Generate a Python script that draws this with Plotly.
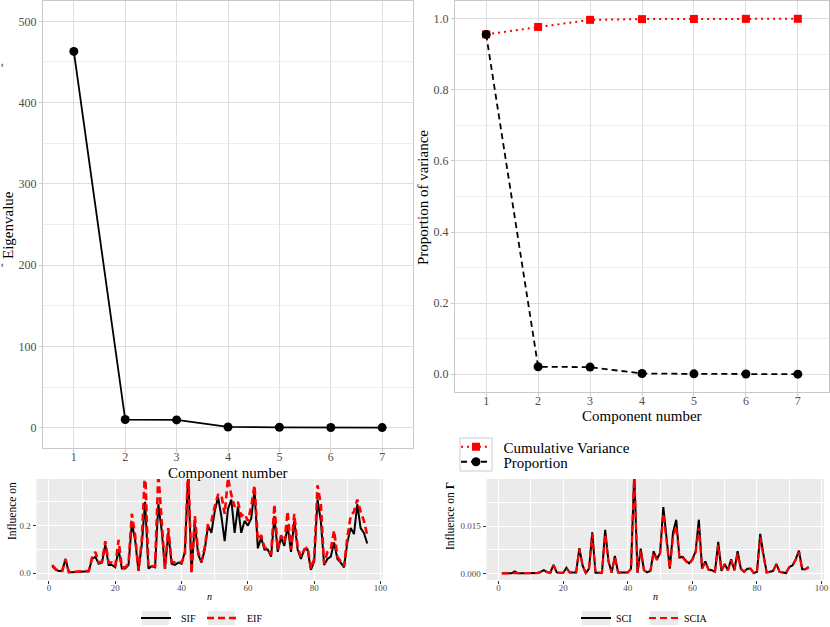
import plotly.graph_objects as go

W, H = 830, 627
def px(x): return x / W
def py(y): return 1 - y / H

# ---------------- data ----------------
components = [1, 2, 3, 4, 5, 6, 7]
eigenvalues = [463, 10.0, 9.6, 0.9, 0.5, 0.25, 0.1]
cumulative = [0.956, 0.977, 0.997, 0.999, 0.9995, 0.9998, 1.0]
proportion = [0.956, 0.021, 0.020, 0.002, 0.001, 0.0005, 0.0002]

obs = list(range(1, 97))
sif = [0.030, 0.015, 0.010, 0.010, 0.060, 0.005, 0.005, 0.006, 0.008, 0.010,
       0.010, 0.009, 0.060, 0.070, 0.040, 0.045, 0.120, 0.035, 0.035, 0.025,
       0.100, 0.020, 0.020, 0.035, 0.210, 0.140, 0.010, 0.120, 0.300, 0.020,
       0.030, 0.025, 0.290, 0.180, 0.020, 0.170, 0.040, 0.035, 0.045, 0.040,
       0.090, 0.420, 0.005, 0.210, 0.080, 0.045, 0.100, 0.200, 0.170, 0.260,
       0.320, 0.240, 0.135, 0.270, 0.310, 0.170, 0.280, 0.170, 0.220, 0.200,
       0.230, 0.350, 0.105, 0.150, 0.100, 0.100, 0.070, 0.240, 0.090, 0.150,
       0.115, 0.200, 0.090, 0.220, 0.100, 0.060, 0.100, 0.100, 0.015, 0.050,
       0.310, 0.220, 0.035, 0.060, 0.070, 0.130, 0.060, 0.045, 0.025, 0.130,
       0.190, 0.165, 0.290, 0.190, 0.170, 0.125]
eif = [0.035, 0.018, 0.010, 0.010, 0.060, 0.005, 0.006, 0.007, 0.009, 0.011,
       0.010, 0.010, 0.065, 0.090, 0.045, 0.050, 0.135, 0.045, 0.045, 0.030,
       0.140, 0.025, 0.025, 0.040, 0.250, 0.160, 0.012, 0.140, 0.440, 0.025,
       0.030, 0.030, 0.420, 0.200, 0.020, 0.190, 0.050, 0.045, 0.050, 0.045,
       0.080, 0.450, 0.000, 0.240, 0.090, 0.050, 0.110, 0.210, 0.220, 0.280,
       0.330, 0.330, 0.250, 0.400, 0.330, 0.280, 0.300, 0.240, 0.250, 0.220,
       0.280, 0.370, 0.140, 0.160, 0.110, 0.100, 0.080, 0.290, 0.100, 0.160,
       0.130, 0.260, 0.100, 0.250, 0.110, 0.070, 0.100, 0.110, 0.020, 0.060,
       0.370, 0.290, 0.040, 0.090, 0.100, 0.180, 0.070, 0.050, 0.030, 0.150,
       0.240, 0.260, 0.310, 0.260, 0.220, 0.160]
sci = [0.0000, 0.0000, 0.0000, 0.0000, 0.0006, 0.0000, 0.0000, 0.0000, 0.0000, 0.0000,
       0.0000, 0.0001, 0.0005, 0.0010, 0.0004, 0.0002, 0.0027, 0.0003, 0.0002, 0.0002,
       0.0018, 0.0003, 0.0003, 0.0003, 0.0080, 0.0025, 0.0001, 0.0015, 0.0130, 0.0002,
       0.0002, 0.0002, 0.0138, 0.0040, 0.0002, 0.0055, 0.0003, 0.0003, 0.0004, 0.0003,
       0.0015, 0.0320, 0.0002, 0.0078, 0.0010, 0.0003, 0.0008, 0.0070, 0.0045, 0.0065,
       0.0210, 0.0100, 0.0015, 0.0130, 0.0170, 0.0050, 0.0052, 0.0040, 0.0032, 0.0045,
       0.0070, 0.0170, 0.0015, 0.0038, 0.0012, 0.0010, 0.0005, 0.0100, 0.0008, 0.0030,
       0.0010, 0.0045, 0.0010, 0.0070, 0.0015, 0.0005, 0.0015, 0.0015, 0.0001, 0.0005,
       0.0125, 0.0060, 0.0003, 0.0005, 0.0008, 0.0030, 0.0005, 0.0003, 0.0001, 0.0020,
       0.0025, 0.0045, 0.0072, 0.0013, 0.0013, 0.0020]
scia = [0.0000, 0.0000, 0.0000, 0.0000, 0.0002, 0.0000, 0.0000, 0.0000, 0.0000, 0.0000,
        0.0000, 0.0001, 0.0004, 0.0008, 0.0004, 0.0002, 0.0025, 0.0003, 0.0002, 0.0002,
        0.0016, 0.0003, 0.0003, 0.0003, 0.0078, 0.0024, 0.0001, 0.0015, 0.0125, 0.0002,
        0.0002, 0.0002, 0.0125, 0.0038, 0.0002, 0.0052, 0.0003, 0.0003, 0.0004, 0.0003,
        0.0014, 0.0320, 0.0002, 0.0072, 0.0010, 0.0003, 0.0008, 0.0065, 0.0042, 0.0062,
        0.0190, 0.0095, 0.0015, 0.0115, 0.0150, 0.0048, 0.0050, 0.0038, 0.0030, 0.0043,
        0.0065, 0.0145, 0.0015, 0.0036, 0.0012, 0.0010, 0.0005, 0.0090, 0.0008, 0.0028,
        0.0010, 0.0042, 0.0010, 0.0062, 0.0015, 0.0005, 0.0015, 0.0015, 0.0001, 0.0005,
        0.0115, 0.0055, 0.0003, 0.0005, 0.0008, 0.0028, 0.0005, 0.0003, 0.0001, 0.0020,
        0.0025, 0.0042, 0.0068, 0.0013, 0.0013, 0.0020]

FONT = "Liberation Serif"
NB = "\u00a0"

fig = go.Figure()

# top-left: scree
fig.add_trace(go.Scatter(x=components, y=eigenvalues, mode="lines+markers",
                         line=dict(color="black", width=1.8),
                         marker=dict(color="black", size=9, symbol="circle"),
                         showlegend=False, xaxis="x", yaxis="y"))
# top-right: cumulative & proportion
fig.add_trace(go.Scatter(x=components, y=cumulative, mode="lines+markers",
                         name=NB * 2 + "Cumulative Variance",
                         line=dict(color="red", width=2, dash="2px,4px"),
                         marker=dict(color="red", size=8, symbol="square"),
                         xaxis="x2", yaxis="y2", legend="legend"))
fig.add_trace(go.Scatter(x=components, y=proportion, mode="lines+markers",
                         name=NB * 2 + "Proportion",
                         line=dict(color="black", width=1.8, dash="6px,4px"),
                         marker=dict(color="black", size=9, symbol="circle"),
                         xaxis="x2", yaxis="y2", legend="legend4"))
# bottom-left
fig.add_trace(go.Scatter(x=obs, y=sif, mode="lines", name=NB * 2 + "SIF",
                         line=dict(color="black", width=2),
                         xaxis="x3", yaxis="y3", legend="legend2"))
fig.add_trace(go.Scatter(x=obs, y=eif, mode="lines", name=NB * 2 + "EIF",
                         line=dict(color="red", width=2.6, dash="7px,4px"),
                         xaxis="x3", yaxis="y3", legend="legend2"))
# bottom-right
fig.add_trace(go.Scatter(x=obs, y=sci, mode="lines", name="SCI",
                         line=dict(color="black", width=2),
                         xaxis="x4", yaxis="y4", legend="legend3"))
fig.add_trace(go.Scatter(x=obs, y=scia, mode="lines", name="SCIA",
                         line=dict(color="red", width=2.2, dash="7px,4px"),
                         xaxis="x4", yaxis="y4", legend="legend3"))

light_grid = "#dedede"
light_minor = "#eeeeee"
border = "#c8c8c8"
tickfont_top = dict(family=FONT, size=12, color="#4d4d4d")
tickfont_bot = dict(family=FONT, size=9, color="#4d4d4d")

def top_x(domain, anchor):
    return dict(domain=domain, anchor=anchor, range=[0.4, 7.6], tickvals=components,
                showgrid=True, gridcolor=light_grid, gridwidth=1, automargin=False,
                showline=True, mirror=True, linecolor=border, linewidth=1,
                ticks="outside", ticklen=3, tickcolor=border, tickfont=tickfont_top,
                ticklabelstandoff=-5, zeroline=False)

def top_y(domain, anchor, rng, tv, tt, minor_vals):
    return dict(domain=domain, anchor=anchor, range=rng, tickvals=tv, ticktext=tt,
                showgrid=True, gridcolor=light_grid, gridwidth=1, automargin=False,
                minor=dict(tickvals=minor_vals, showgrid=True, gridcolor=light_minor,
                           gridwidth=1, ticks=""),
                showline=True, mirror=True, linecolor=border, linewidth=1,
                ticks="outside", ticklen=3, tickcolor=border, tickfont=tickfont_top,
                zeroline=False)

def bot_x(domain, anchor):
    return dict(domain=domain, anchor=anchor, range=[-3.75, 100.75],
                tickvals=[0, 20, 40, 60, 80, 100], automargin=False,
                showgrid=True, gridcolor="white", gridwidth=1.1,
                minor=dict(tickvals=[10, 30, 50, 70, 90], showgrid=True,
                           gridcolor="white", gridwidth=0.5, ticks=""),
                showline=False, ticks="outside", ticklen=3, tickcolor="#333333",
                tickfont=tickfont_bot, ticklabelstandoff=-4, zeroline=False)

def bot_y(domain, anchor, rng, tv, tt, minor_vals):
    return dict(domain=domain, anchor=anchor, range=rng, tickvals=tv, ticktext=tt,
                showgrid=True, gridcolor="white", gridwidth=1.1, automargin=False,
                minor=dict(tickvals=minor_vals, showgrid=True, gridcolor="white",
                           gridwidth=0.5, ticks=""),
                showline=False, ticks="outside", ticklen=3, tickcolor="#333333",
                tickfont=tickfont_bot, zeroline=False)

dom_tl_x = [px(43), px(413)]
dom_tl_y = [py(448), py(1)]
dom_tr_x = [px(455), px(829)]
dom_tr_y = [py(392), py(1)]
dom_bl_x = [px(36.5), px(383)]
dom_bl_y = [py(580), py(479)]
dom_br_x = [px(486.5), px(824)]
dom_br_y = [py(580), py(479)]

def small_legend(x, y, ew):
    return dict(orientation="h", x=px(x), y=py(y), xanchor="left", yanchor="middle",
                bgcolor="rgba(0,0,0,0)", font=dict(family=FONT, size=10),
                entrywidthmode="pixels", entrywidth=ew)

fig.update_layout(
    width=W, height=H,
    margin=dict(l=0, r=0, t=0, b=0, autoexpand=False),
    paper_bgcolor="white",
    plot_bgcolor="white",
    font=dict(family=FONT, color="black"),
    xaxis=top_x(dom_tl_x, "y"),
    yaxis=top_y(dom_tl_y, "x", [-25, 525], [0, 100, 200, 300, 400, 500],
                ["0", "100", "200", "300", "400", "500"], [50, 150, 250, 350, 450]),
    xaxis2=top_x(dom_tr_x, "y2"),
    yaxis2=top_y(dom_tr_y, "x2", [-0.05, 1.05], [0, 0.2, 0.4, 0.6, 0.8, 1.0],
                 ["0.0", "0.2", "0.4", "0.6", "0.8", "1.0"], [0.1, 0.3, 0.5, 0.7, 0.9]),
    xaxis3=bot_x(dom_bl_x, "y3"),
    yaxis3=bot_y(dom_bl_y, "x3", [-0.028, 0.396], [0, 0.2], ["0.0", "0.2"], [0.1, 0.3]),
    xaxis4=bot_x(dom_br_x, "y4"),
    yaxis4=bot_y(dom_br_y, "x4", [-0.0021, 0.0299], [0, 0.015], ["0.000", "0.015"],
                 [0.0075, 0.0225]),
    legend=dict(x=px(456), y=py(447), xanchor="left", yanchor="middle",
                bgcolor="rgba(0,0,0,0)", font=dict(family=FONT, size=15)),
    legend4=dict(x=px(456), y=py(462), xanchor="left", yanchor="middle",
                 bgcolor="rgba(0,0,0,0)", font=dict(family=FONT, size=15)),
    legend2=small_legend(136, 618, 21),
    legend3=small_legend(576, 618, 23),
)

# panel backgrounds for bottom panels (ggplot grey theme)
for xd, yd in [(dom_bl_x, dom_bl_y), (dom_br_x, dom_br_y)]:
    fig.add_shape(type="rect", xref="paper", yref="paper", x0=xd[0], x1=xd[1],
                  y0=yd[0], y1=yd[1], fillcolor="#ebebeb", line=dict(width=0),
                  layer="below")
# legend key boxes of the bottom legends
for x0, x1 in [(142, 169), (208, 235), (582, 610), (650, 678)]:
    fig.add_shape(type="rect", xref="paper", yref="paper", x0=px(x0), x1=px(x1),
                  y0=py(625), y1=py(611), fillcolor="#ebebeb", line=dict(width=0),
                  layer="above")
# legend key box (top-right legend)
fig.add_shape(type="rect", xref="paper", yref="paper", x0=px(460), x1=px(492),
              y0=py(471), y1=py(438), line=dict(color="#cccccc", width=1),
              fillcolor="rgba(0,0,0,0)")

ann = []
def title(text, x, y, size, angle=0, italic=False):
    if italic:
        text = "<i>" + text + "</i>"
    ann.append(dict(text=text, x=px(x), y=py(y), xref="paper", yref="paper",
                    showarrow=False, textangle=angle, xanchor="center", yanchor="middle",
                    font=dict(family=FONT, size=size, color="black")))

title("Component number", 228, 473, 15)
title("Component number", 642, 416, 15)
title("Eigenvalue", 8, 225, 15, -90)
title("ˆ", 5, 265, 11, -90)
title("ˆ", 5, 65, 11, -90)
title("Proportion of variance", 423, 197, 15, -90)
title("n", 210, 596, 10, italic=True)
title("n", 655, 596, 10, italic=True)
title("Influence on", 12, 511, 11.5, -90)
title("Influence on <b>Γ</b>", 450, 516, 11.5, -90)
fig.update_layout(annotations=ann)

fig.write_html(
    "out.html",
    config={"displayModeBar": False},
    post_script="document.body.style.margin='0px';document.body.style.padding='0px';"
                "document.body.style.overflow='hidden';",
)
